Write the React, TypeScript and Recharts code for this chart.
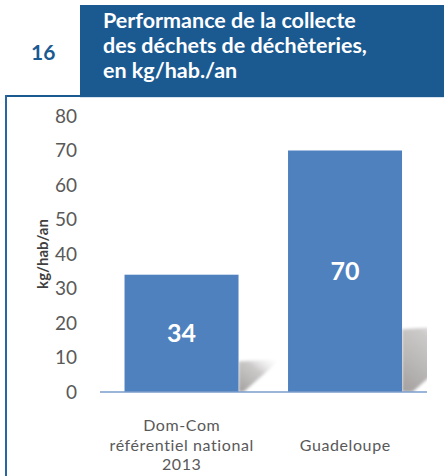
import React from 'react';
import { BarChart, Bar, XAxis, YAxis, LabelList } from 'recharts';

const categories = ['Dom-Com\nréférentiel national\n2013', 'Guadeloupe'];
const values = [34, 70];
const yTicks = [0, 10, 20, 30, 40, 50, 60, 70, 80];
const titleLines = ['Performance de la collecte', 'des déchets de déchèteries,', 'en kg/hab./an'];
const figureNumber = '16';
const yAxisTitle = 'kg/hab/an';

const data = categories.map((c, i) => ({ name: c, value: values[i] }));

const W = 444;
const H = 476;
const X_AXIS_H = 30;
const margin = { top: 116, right: 17, bottom: 84 - X_AXIS_H, left: 10 };
const plotRight = W - margin.right;
const FONT = 'Lato, "Open Sans", sans-serif';
const DARK_BLUE = '#1b5a91';

const BarWithShadow = (props: any) => {
  const { x, y, width, height, fill, index } = props;
  const bottom = y + height;
  const sh = height * 0.26;
  const sw = height * 0.36;
  const x0 = x + width;
  const id = `shadowGrad${index}`;
  const clipId = `shadowClip${index}`;
  const blurId = `shadowBlur${index}`;
  return (
    <g>
      <defs>
        <linearGradient id={id} x1="0" y1="1" x2="1" y2="0">
          <stop offset="0%" stopColor="#9e9a9a" stopOpacity={0.95} />
          <stop offset="55%" stopColor="#b5b1b1" stopOpacity={0.7} />
          <stop offset="100%" stopColor="#ffffff" stopOpacity={0} />
        </linearGradient>
        <filter id={blurId} x="-20%" y="-20%" width="140%" height="140%">
          <feGaussianBlur stdDeviation="1.5" />
        </filter>
        <clipPath id={clipId}>
          <rect x={x0} y={bottom - sh - 4} width={Math.max(0, plotRight - x0)} height={sh + 4} />
        </clipPath>
      </defs>
      <g clipPath={`url(#${clipId})`}>
        <polygon
          points={`${x0},${bottom - sh} ${x0 + sw},${bottom - sh - sh * 0.08} ${x0 + sw * 0.12},${bottom} ${x0},${bottom}`}
          fill={`url(#${id})`}
          filter={`url(#${blurId})`}
        />
      </g>
      <rect x={x} y={y} width={width} height={height} fill={fill} />
    </g>
  );
};

const XTick = (props: any) => {
  const { x, y, payload } = props;
  const lines = String(payload.value).split('\n');
  const lh = 19.5;
  const center = y + 44;
  const start = center - ((lines.length - 1) * lh) / 2;
  return (
    <g>
      {lines.map((l, i) => (
        <text
          key={i}
          x={x}
          y={start + i * lh}
          textAnchor="middle"
          dominantBaseline="central"
          fontFamily={FONT}
          fontSize={16}
          letterSpacing={0.6}
          fill="#595959"
        >
          {l}
        </text>
      ))}
    </g>
  );
};

export default function App() {
  return (
    <div style={{ position: 'absolute', left: 0, top: 0, width: W, height: H, background: '#ffffff', overflow: 'hidden', fontFamily: FONT }}>
      <div style={{ position: 'absolute', left: 80, top: 5, width: W - 80, height: 92, background: DARK_BLUE }} />
      <div style={{ position: 'absolute', left: 80, top: 97, width: W - 80, height: 1, background: '#d6e3ef' }} />
      <div style={{ position: 'absolute', left: 103, top: 8, color: '#ffffff', fontWeight: 700, fontSize: 21.5, lineHeight: '25px', whiteSpace: 'nowrap' }}>
        {titleLines.map((t, i) => (
          <div key={i}>{t}</div>
        ))}
      </div>
      <div style={{ position: 'absolute', left: 31, top: 39, color: DARK_BLUE, fontWeight: 700, fontSize: 21, lineHeight: '26px' }}>{figureNumber}</div>
      <div style={{ position: 'absolute', left: 5, top: 95, width: 75, height: 2, background: DARK_BLUE }} />
      <div style={{ position: 'absolute', left: 5, top: 95, width: 2, height: H - 95, background: '#2a65a3' }} />
      <div style={{ position: 'absolute', left: 0, top: 0 }}>
        <BarChart width={W} height={H} data={data} margin={margin} barCategoryGap="15%">
          <XAxis
            dataKey="name"
            height={X_AXIS_H}
            axisLine={{ stroke: '#7a9dcc', strokeWidth: 1.5 }}
            tickLine={false}
            tick={<XTick />}
            interval={0}
          />
          <YAxis
            width={90}
            domain={[0, 80]}
            ticks={yTicks}
            axisLine={false}
            tickLine={false}
            tickSize={0}
            tickMargin={23}
            tick={{ fontFamily: FONT, fontSize: 19, fill: '#595959' }}
            label={{
              content: () => (
                <text
                  transform="translate(42,254) rotate(-90)"
                  textAnchor="middle"
                  dominantBaseline="central"
                  fontFamily={FONT}
                  fontWeight={700}
                  fontSize={15}
                  fill="#404040"
                >
                  {yAxisTitle}
                </text>
              ),
            }}
          />
          <Bar dataKey="value" fill="#5081bf" isAnimationActive={false} shape={<BarWithShadow />}>
            <LabelList dataKey="value" position="center" fill="#ffffff" fontFamily={FONT} fontWeight={700} fontSize={25} />
          </Bar>
        </BarChart>
      </div>
    </div>
  );
}
